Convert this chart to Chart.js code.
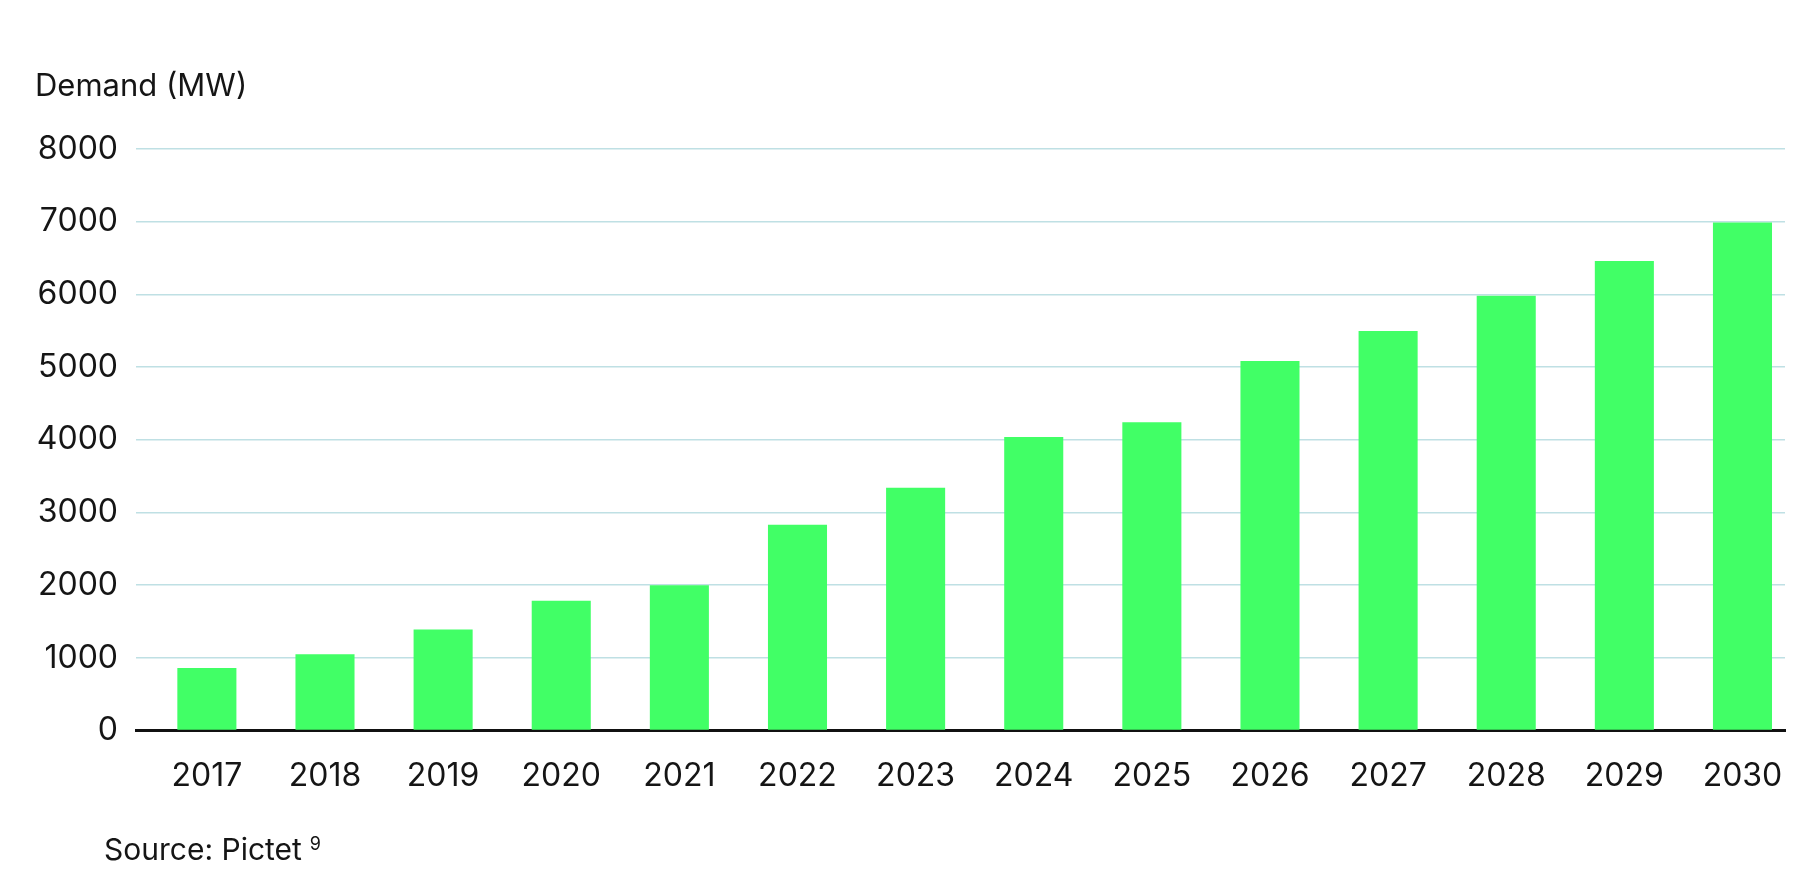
<!DOCTYPE html>
<html>
<head>
<meta charset="utf-8">
<script src="https://cdn.jsdelivr.net/npm/chart.js@4"></script>
<style>
  html, body { margin: 0; padding: 0; background: #ffffff; }
  #wrap { width: 1818px; height: 886px; }
</style>
</head>
<body>
<div id="wrap"><canvas id="c" width="1818" height="886"></canvas></div>
<script>
const years = [2017, 2018, 2019, 2020, 2021, 2022, 2023, 2024, 2025, 2026, 2027, 2028, 2029, 2030];
const demandMW = [860, 1050, 1390, 1785, 2000, 2830, 3340, 4040, 4240, 5085, 5495, 5980, 6460, 6990];
const yTicks = [0, 1000, 2000, 3000, 4000, 5000, 6000, 7000, 8000];
const yAxisTitle = 'Demand (MW)';
const sourceText = 'Source: Pictet';
const sourceRef = '9';

const FONT = 'Inter, "DejaVu Sans", sans-serif';
const TEXT = '#151515';

const textPlugin = {
  id: 'chartTexts',
  afterDraw(chart) {
    const ctx = chart.ctx;
    ctx.save();
    ctx.fillStyle = TEXT;
    ctx.textAlign = 'left';
    ctx.textBaseline = 'middle';
    ctx.font = '31px ' + FONT;
    ctx.fillText(yAxisTitle, 35, 87);
    ctx.font = '30px ' + FONT;
    ctx.fillText(sourceText, 104, 851);
    const w = ctx.measureText(sourceText).width;
    ctx.font = '18px ' + FONT;
    ctx.fillText(sourceRef, 104 + w + 8, 845);
    ctx.restore();
  }
};

new Chart(document.getElementById('c'), {
  type: 'bar',
  data: {
    datasets: [{
      data: years.map((y, i) => ({ x: y, y: demandMW[i] })),
      backgroundColor: '#41ff66',
      borderWidth: 0,
      barPercentage: 0.5,
      categoryPercentage: 1.0
    }]
  },
  plugins: [textPlugin],
  options: {
    responsive: false,
    animation: false,
    layout: { padding: { left: 0, right: 33, top: 149, bottom: 63 } },
    plugins: {
      legend: { display: false },
      tooltip: { enabled: false },
      title: { display: false }
    },
    scales: {
      x: {
        type: 'linear',
        min: 2016.4,
        max: 2030.36,
        offset: false,
        grid: { display: false, drawTicks: false },
        border: { display: true, color: '#111111', width: 3 },
        ticks: {
          stepSize: 1,
          includeBounds: false,
          autoSkip: false,
          maxRotation: 0,
          padding: 27,
          color: TEXT,
          font: { family: FONT, size: 32, lineHeight: 1.2 },
          callback: v => String(v)
        }
      },
      y: {
        min: 0,
        max: 8000,
        afterBuildTicks: s => { s.ticks = yTicks.map(v => ({ value: v })); },
        afterFit: s => { s.width = 136; },
        grid: { color: '#bfe0e4', lineWidth: 1.5, drawTicks: false },
        border: { display: false },
        ticks: {
          padding: 18,
          color: TEXT,
          font: { family: FONT, size: 32, lineHeight: 1.2 },
          callback: v => String(v)
        }
      }
    }
  }
});
</script>
</body>
</html>
